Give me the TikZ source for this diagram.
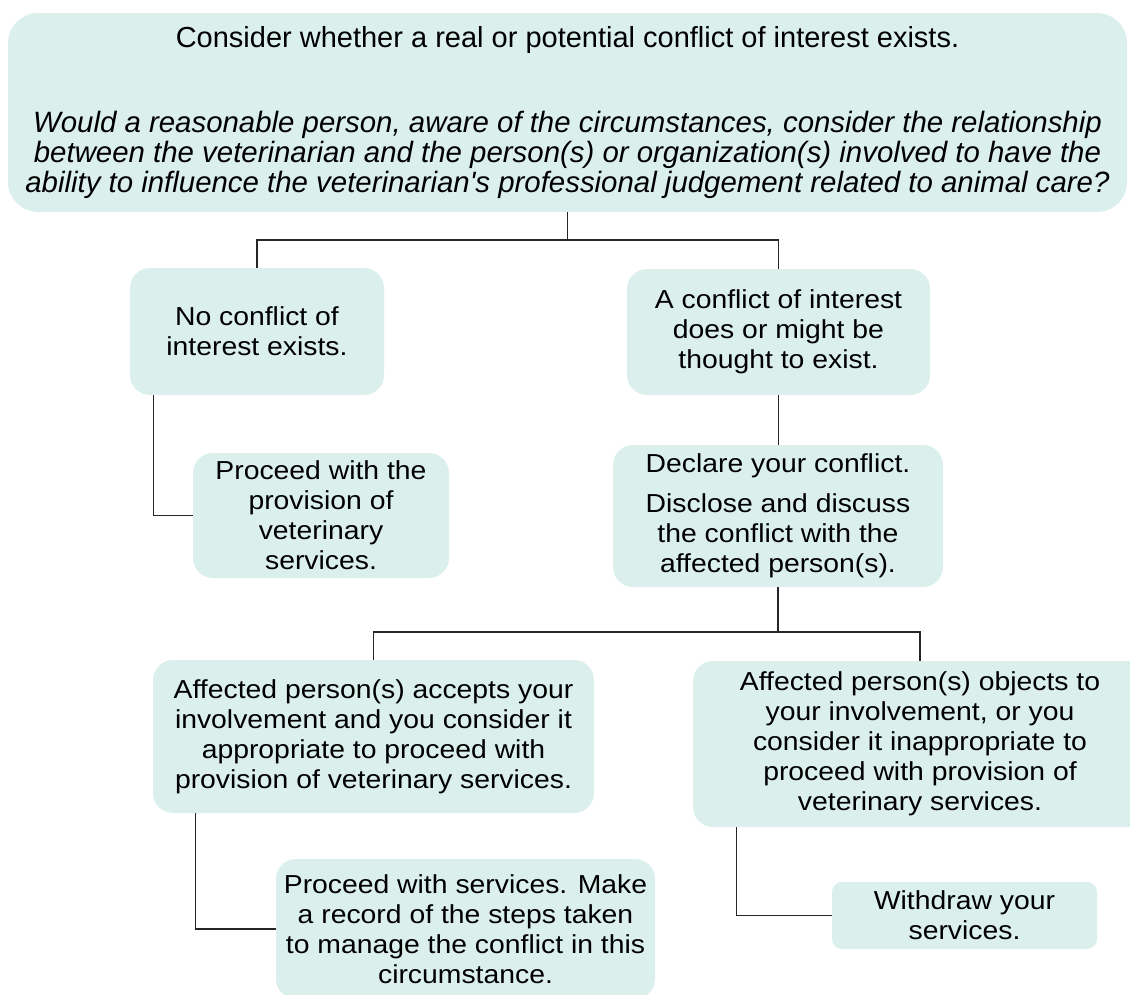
\documentclass[tikz,border=0pt]{standalone}
\usepackage{fontspec}
\setmainfont{Liberation Sans}
\newfontfamily\cnsans[FakeStretch=1.09]{Liberation Sans}
\usepackage{xcolor}
\usepackage{tikz}
\usetikzlibrary{positioning,calc}
\definecolor{cnFill}{HTML}{DBF0EC}
\definecolor{cnLine}{HTML}{262626}
\tikzset{
  % Teal step box
  tbox/.style={rectangle,rounded corners=20pt,
    align=center,inner sep=0pt,fill=cnFill,draw=none,
    font=\cnsans\fontsize{26}{30}\selectfont,text=black},
  % Wide question box (top)
  qbox/.style={tbox,rounded corners=30pt,
    font=\rmfamily\fontsize{29}{30}\selectfont},
  % Small end box
  ebox/.style={tbox,rounded corners=10pt},
  % Connector lines
  conn/.style={line width=1.3pt,color=cnLine},
}
\newcommand\qital[1]{{\fontsize{29.4}{30}\selectfont\itshape #1}}

\begin{document}
\begin{tikzpicture}[x=1pt,y=-1pt]
  \clip (0,0) rectangle (1130,994);

  \node[qbox,minimum width=1119pt,minimum height=199pt] (question) at (567.5,112.5)
    {Consider whether a real or potential conflict of interest exists.\\[55pt]
     \qital{Would a reasonable person, aware of the circumstances, consider the relationship}\\
     \qital{between the veterinarian and the person(s) or organization(s) involved to have the}\\
     \qital{ability to influence the veterinarian\textquotesingle s professional judgement related to animal care?}};

  \node[tbox,minimum width=254pt,minimum height=127pt] (nocon) at (257,331.5)
    {No conflict of\\interest exists.};
  \node[tbox,minimum width=303pt,minimum height=126pt] (conf) at (778.5,332)
    {A conflict of interest\\does or might be\\thought to exist.};

  \node[tbox,minimum width=256pt,minimum height=125pt] (procA) at (321,515.5)
    {Proceed with the\\provision of\\veterinary\\services.};
  \node[tbox,minimum width=330pt,minimum height=142pt] (declare) at (778,516)
    {Declare your conflict.\\[10pt]
     Disclose and discuss\\the conflict with the\\affected person(s).};

  \node[tbox,minimum width=441pt,minimum height=153pt] (accept) at (373.5,736.5)
    {Affected person(s) accepts your\\involvement and you consider it\\appropriate to proceed with\\provision of veterinary services.};
  \node[tbox,minimum width=454pt,minimum height=166pt] (object) at (920,744)
    {Affected person(s) objects to\\your involvement, or you\\consider it inappropriate to\\proceed with provision of\\veterinary services.};

  \node[tbox,minimum width=379pt,minimum height=140pt] (procB) at (465.5,929)
    {Proceed with services. Make\\a record of the steps taken\\to manage the conflict in this\\circumstance.};
  \node[ebox,minimum width=265pt,minimum height=67pt] (withdraw) at (964.5,915.5)
    {Withdraw your\\services.};

  % Tree connectors
  \coordinate (forkA) at (567.5,240);
  \coordinate (forkB) at (778,632);
  \draw[conn] (question.south) -- (forkA);
  \draw[conn] (nocon.north) |- (forkA);
  \draw[conn] (conf.north) |- (forkA);
  \draw[conn] ([xshift=24pt]nocon.south west) |- (procA.west);
  \draw[conn] (conf.south) -- (conf.south |- declare.north);
  \draw[conn] (declare.south) -- (forkB);
  \draw[conn] (accept.north) |- (forkB);
  \draw[conn] (object.north) |- (forkB);
  \draw[conn] ([xshift=43pt]accept.south west) |- (procB.west);
  \draw[conn] ([xshift=44pt]object.south west) |- (withdraw.west);
\end{tikzpicture}
\end{document}
